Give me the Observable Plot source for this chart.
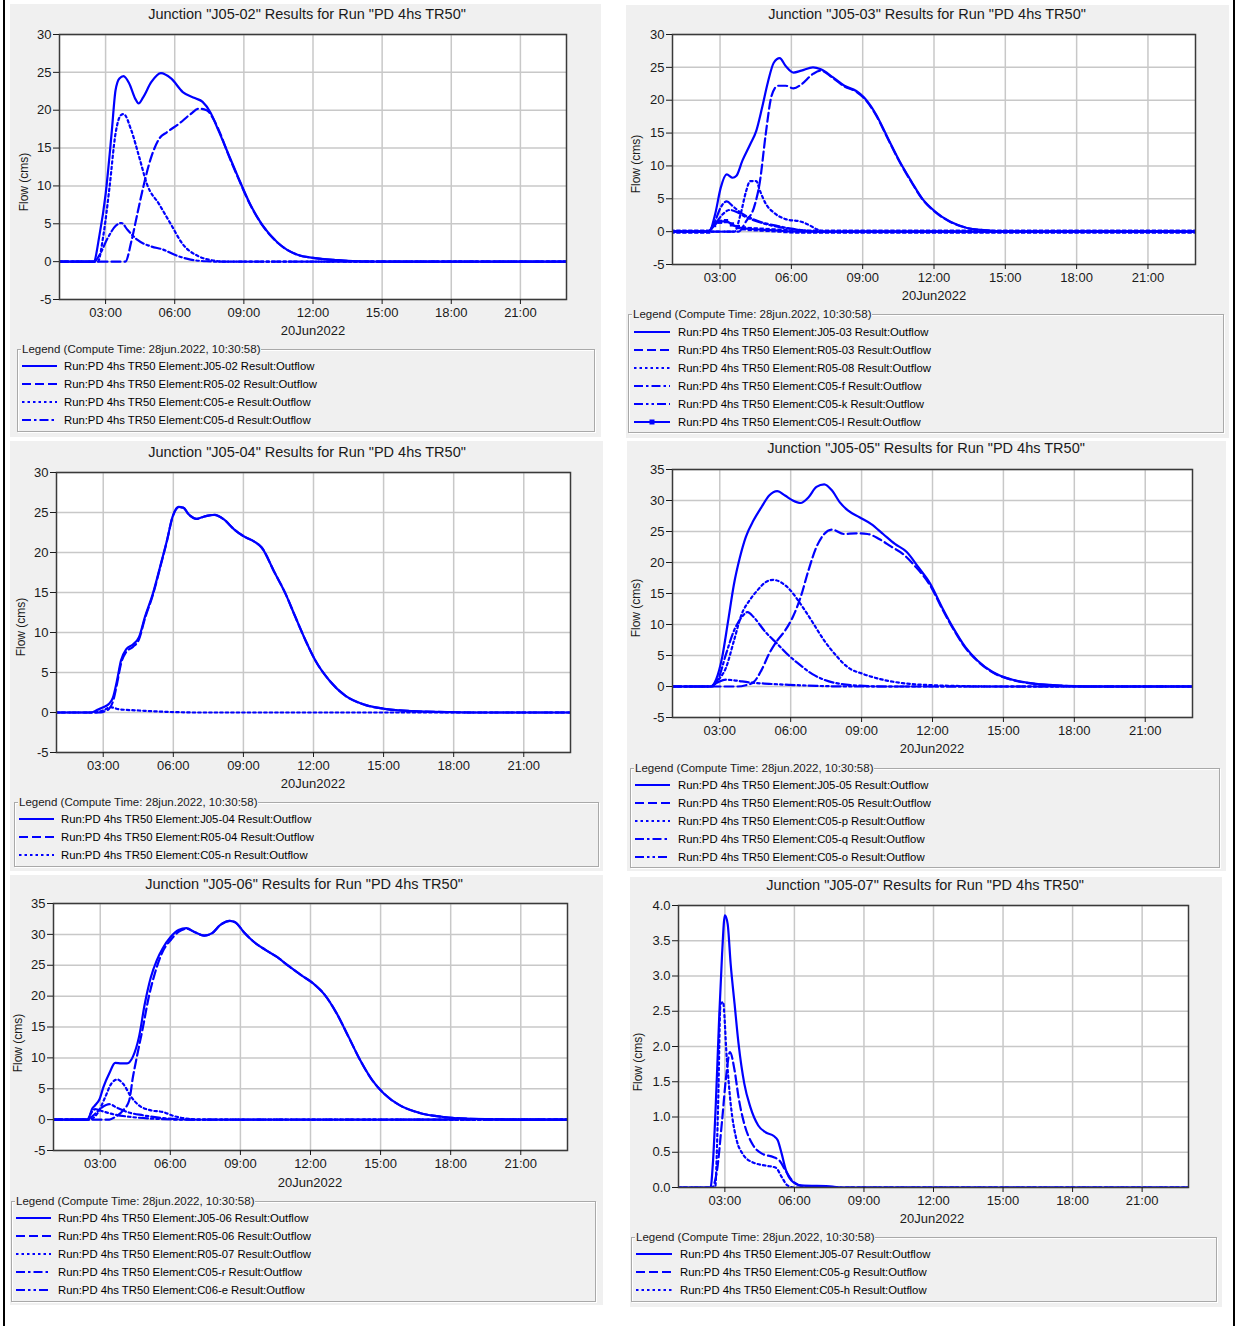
<!DOCTYPE html>
<html><head><meta charset="utf-8">
<script src="https://cdn.jsdelivr.net/npm/d3@7"></script>
<script src="https://cdn.jsdelivr.net/npm/@observablehq/plot@0.6"></script>
<style>
body{margin:0;background:#fff;font-family:"Liberation Sans",Arial,sans-serif;}
#page{position:relative;width:1235px;height:1326px;overflow:hidden;background:#fff;}
.gray{position:absolute;background:#f0f0f0;}
.ctext{position:absolute;white-space:nowrap;color:#1a1a1a;transform:translate(-50%,-50%);}
.title{font-size:14.5px;}
.date{font-size:13px;}
.flow{font-size:12px;transform:translate(-50%,-50%) rotate(-90deg);}
.lbox{position:absolute;border:1px solid #a9a9a9;box-shadow:inset 1px 1px 0 #fff,1px 1px 0 #fff;box-sizing:border-box;}
.ltitle{position:absolute;font-size:11.5px;color:#1a1a1a;background:#f0f0f0;padding:0 1px;white-space:nowrap;transform:translateY(-50%);}
.lrow{position:absolute;font-size:11.3px;color:#000;white-space:nowrap;transform:translateY(-50%);}
.vline{position:absolute;background:#000;}
</style></head>
<body><div id="page"></div>
<script>
// ---------- shared texts / ticks ----------
const xTicks = [3, 6, 9, 12, 15, 18, 21];
const xTickLabels = ["03:00", "06:00", "09:00", "12:00", "15:00", "18:00", "21:00"];
const xDomain = [1, 23];
const dateLabel = "20Jun2022";
const yLabel = "Flow (cms)";
const legendTitle = "Legend (Compute Time: 28jun.2022, 10:30:58)";

// ---------- Panel 1: J05-02 ----------
const p1Title = 'Junction "J05-02" Results for Run "PD 4hs TR50"';
const p1Names = ["Run:PD 4hs TR50 Element:J05-02 Result:Outflow", "Run:PD 4hs TR50 Element:R05-02 Result:Outflow", "Run:PD 4hs TR50 Element:C05-e Result:Outflow", "Run:PD 4hs TR50 Element:C05-d Result:Outflow"];
const p1_J0502 = [[1,0],[2.48,0],[2.74,3.6],[3.0,8.9],[3.26,16.9],[3.43,22.6],[3.6,24.2],[3.78,24.5],[4.03,23.5],[4.29,21.5],[4.43,20.9],[4.63,21.7],[4.98,23.7],[5.4,24.9],[5.84,24.2],[6.35,22.4],[6.87,21.6],[7.21,21.1],[7.55,19.7],[7.9,17.3],[8.33,14.2],[8.76,11.1],[9.27,7.6],[9.79,4.9],[10.47,2.5],[11.33,0.9],[12.0,0.5],[13.05,0.2],[13.9,0.05],[15,0],[23,0]];
const p1_R0502 = [[1,0],[3.86,0],[4.12,2.7],[4.37,6.2],[4.63,9.8],[4.98,13.8],[5.32,16.2],[5.66,17.1],[6.18,18.2],[6.69,19.5],[7.04,20.2],[7.38,20.0],[7.72,18.6],[7.95,17.1],[8.33,14.1],[8.76,11.0],[9.27,7.55],[9.79,4.87],[10.47,2.49],[11.33,0.9],[12.0,0.5],[13.05,0.2],[13.9,0.05],[15,0],[23,0]];
const p1_C05e = [[1,0],[2.66,0],[2.91,3.6],[3.17,9.8],[3.43,16.9],[3.65,19.3],[3.78,19.5],[4.12,17.3],[4.46,13.8],[4.8,10.2],[5.32,7.6],[5.84,4.9],[6.35,2.3],[7.04,0.7],[7.72,0.13],[8.2,0],[23,0]];
const p1_C05d = [[1,0],[2.5,0],[2.74,0.9],[3.09,3.1],[3.43,4.7],[3.69,5.1],[3.95,4.2],[4.37,2.9],[4.98,2.0],[5.49,1.6],[6.0,0.9],[6.69,0.27],[7.38,0.05],[8,0],[23,0]];

// ---------- Panel 2: J05-03 ----------
const p2Title = 'Junction "J05-03" Results for Run "PD 4hs TR50"';
const p2Names = ["Run:PD 4hs TR50 Element:J05-03 Result:Outflow", "Run:PD 4hs TR50 Element:R05-03 Result:Outflow", "Run:PD 4hs TR50 Element:R05-08 Result:Outflow", "Run:PD 4hs TR50 Element:C05-f Result:Outflow", "Run:PD 4hs TR50 Element:C05-k Result:Outflow", "Run:PD 4hs TR50 Element:C05-l Result:Outflow"];
const p2_J0503 = [[1,0],[2.54,0],[2.79,2.6],[3.03,6.7],[3.28,8.7],[3.53,8.2],[3.69,8.5],[3.94,10.8],[4.27,13.3],[4.52,15.3],[4.77,18.9],[5.01,22.7],[5.26,25.7],[5.51,26.4],[5.76,25.2],[6.09,24.2],[6.42,24.5],[6.91,25.0],[7.24,24.7],[7.74,23.5],[8.23,22.2],[8.73,21.4],[9.06,20.4],[9.55,17.9],[10.05,14.3],[10.54,10.8],[11.04,7.7],[11.53,4.9],[12.03,3.1],[12.69,1.5],[13.35,0.6],[14.17,0.2],[15.2,0],[23,0]];
const p2_R0503 = [[1,0],[3.78,0],[4.1,1.6],[4.43,3.7],[4.68,7.7],[4.92,14.8],[5.17,20.7],[5.43,22.2],[5.76,22.2],[6.09,21.8],[6.42,22.4],[6.91,24.0],[7.24,24.5],[7.74,23.4],[8.23,22.1],[8.73,21.3],[9.06,20.3],[9.55,17.8],[10.05,14.2],[10.54,10.7],[11.04,7.6],[11.53,4.85],[12.03,3.05],[12.69,1.48],[13.35,0.6],[14.17,0.2],[15.2,0],[23,0]];
const p2_R0508 = [[1,0],[3.61,0],[3.86,2.6],[4.1,6.2],[4.27,7.7],[4.52,7.7],[4.68,6.2],[4.93,4.2],[5.26,2.9],[5.76,1.9],[6.42,1.5],[6.75,1.0],[7.08,0.35],[7.4,0],[23,0]];
const p2_C05f = [[1,0],[2.5,0],[2.79,1.6],[3.03,3.7],[3.28,4.6],[3.53,3.9],[3.86,2.9],[4.27,2.1],[4.77,1.4],[5.43,0.86],[5.92,0.5],[6.75,0.1],[7.3,0],[23,0]];
const p2_C05k = [[1,0],[2.5,0],[2.8,1.2],[3.1,2.6],[3.4,3.3],[3.7,3.0],[4.1,2.2],[4.6,1.5],[5.2,0.9],[5.8,0.5],[6.5,0.15],[7,0],[23,0]];
// C05-l: 15-minute values from 01:00 to 23:00 (89 values)
const p2_C05l_start = 1, p2_C05l_step = 0.25;
const p2_C05l = [0,0,0,0,0,0,0,1.0,1.5,1.6,1.1,0.7,0.5,0.4,0.35,0.3,0.25,0.2,0.15,0.08,0.03,
  0,0,0,0,0,0,0,0,0,0,
  0,0,0,0,0,0,0,0,0,0,
  0,0,0,0,0,0,0,0,0,0,
  0,0,0,0,0,0,0,0,0,0,
  0,0,0,0,0,0,0,0,0,0,
  0,0,0,0,0,0,0,0,0,0,
  0,0,0,0,0,0,0,0];

// ---------- Panel 3: J05-04 ----------
const p3Title = 'Junction "J05-04" Results for Run "PD 4hs TR50"';
const p3Names = ["Run:PD 4hs TR50 Element:J05-04 Result:Outflow", "Run:PD 4hs TR50 Element:R05-04 Result:Outflow", "Run:PD 4hs TR50 Element:C05-n Result:Outflow"];
const p3_J0504 = [[1,0],[2.49,0],[2.75,0.33],[3.0,0.66],[3.25,1.1],[3.42,1.9],[3.59,4.0],[3.76,6.5],[3.98,7.9],[4.27,8.5],[4.53,9.4],[4.78,11.9],[5.12,14.8],[5.46,18.5],[5.72,21.4],[5.97,24.5],[6.23,25.7],[6.43,25.6],[6.65,24.8],[6.99,24.2],[7.33,24.5],[7.75,24.7],[8.18,24.1],[8.6,22.9],[9.03,22.0],[9.45,21.4],[9.79,20.6],[10.3,17.7],[10.81,14.8],[11.23,11.9],[11.66,9.0],[12.08,6.5],[12.68,4.0],[13.36,2.1],[14.21,0.95],[15.05,0.46],[16.24,0.17],[17.94,0.04],[19,0],[23,0]];
const p3_R0504 = [[1,0],[2.9,0],[3.1,0.2],[3.25,0.45],[3.42,1.4],[3.59,3.6],[3.76,6.1],[3.98,7.55],[4.27,8.2],[4.53,9.15],[4.78,11.7],[5.12,14.65],[5.46,18.4],[5.72,21.35],[5.97,24.45],[6.23,25.65],[6.43,25.6],[6.65,24.8],[6.99,24.2],[7.33,24.5],[7.75,24.7],[8.18,24.1],[8.6,22.9],[9.03,22.0],[9.45,21.4],[9.79,20.6],[10.3,17.7],[10.81,14.8],[11.23,11.9],[11.66,9.0],[12.08,6.5],[12.68,4.0],[13.36,2.1],[14.21,0.95],[15.05,0.46],[16.24,0.17],[17.94,0.04],[19,0],[23,0]];
const p3_C05n = [[1,0],[2.6,0],[3.0,0.25],[3.31,0.66],[3.68,0.4],[4.53,0.25],[5.38,0.12],[6.2,0.04],[7,0],[23,0]];

// ---------- Panel 4: J05-05 ----------
const p4Title = 'Junction "J05-05" Results for Run "PD 4hs TR50"';
const p4Names = ["Run:PD 4hs TR50 Element:J05-05 Result:Outflow", "Run:PD 4hs TR50 Element:R05-05 Result:Outflow", "Run:PD 4hs TR50 Element:C05-p Result:Outflow", "Run:PD 4hs TR50 Element:C05-q Result:Outflow", "Run:PD 4hs TR50 Element:C05-o Result:Outflow"];
const p4_J0505 = [[1,0],[2.6,0],[2.85,1.2],[3.1,4.7],[3.35,10.5],[3.6,16.5],[3.85,20.8],[4.1,24.1],[4.43,26.8],[4.76,28.9],[5.09,30.8],[5.43,31.5],[5.76,30.8],[6.09,30.0],[6.42,29.6],[6.75,30.5],[7.09,32.2],[7.42,32.6],[7.75,31.6],[8.08,29.7],[8.42,28.4],[8.91,27.3],[9.41,26.2],[9.91,24.6],[10.41,23.0],[10.91,21.7],[11.41,19.2],[11.9,16.6],[12.4,12.8],[12.9,9.3],[13.4,6.3],[13.9,4.2],[14.56,2.3],[15.39,1.08],[16.39,0.43],[17.39,0.16],[18.7,0],[23,0]];
const p4_R0505 = [[1,0],[3.76,0],[4.1,0.2],[4.43,0.7],[4.76,2.6],[5.09,5.3],[5.43,7.4],[5.76,9.0],[6.09,11.2],[6.42,14.4],[6.75,18.7],[7.09,22.5],[7.42,24.6],[7.75,25.3],[8.25,24.6],[8.75,24.7],[9.25,24.6],[9.74,23.8],[10.24,22.6],[10.74,21.4],[11.24,19.5],[11.9,16.3],[12.4,12.6],[12.9,9.15],[13.4,6.2],[13.9,4.12],[14.56,2.25],[15.39,1.05],[16.39,0.4],[17.39,0.15],[18.7,0],[23,0]];
const p4_C05p = [[1,0],[2.68,0],[2.93,1.0],[3.27,3.1],[3.6,7.4],[3.93,11.7],[4.26,13.9],[4.59,15.5],[4.93,16.8],[5.26,17.2],[5.59,16.8],[5.92,15.8],[6.42,13.3],[6.92,10.4],[7.42,7.4],[7.92,5.0],[8.42,3.1],[9.08,2.0],[9.74,1.24],[10.74,0.54],[12.07,0.2],[13.5,0.05],[14.5,0],[23,0]];
const p4_C05q = [[1,0],[2.6,0],[2.93,1.2],[3.27,5.3],[3.6,9.0],[3.93,11.2],[4.18,12.0],[4.43,11.2],[4.93,8.8],[5.43,6.9],[5.92,5.0],[6.42,3.4],[6.92,2.0],[7.42,1.08],[8.08,0.43],[9.08,0.1],[10,0],[23,0]];
const p4_C05o = [[1,0],[2.6,0],[2.93,0.7],[3.27,1.1],[3.6,1.0],[4.26,0.65],[5.09,0.43],[5.92,0.27],[7.09,0.1],[8.5,0],[23,0]];

// ---------- Panel 5: J05-06 ----------
const p5Title = 'Junction "J05-06" Results for Run "PD 4hs TR50"';
const p5Names = ["Run:PD 4hs TR50 Element:J05-06 Result:Outflow", "Run:PD 4hs TR50 Element:R05-06 Result:Outflow", "Run:PD 4hs TR50 Element:R05-07 Result:Outflow", "Run:PD 4hs TR50 Element:C05-r Result:Outflow", "Run:PD 4hs TR50 Element:C06-e Result:Outflow"];
const p5_J0506 = [[1,0],[2.46,0],[2.66,1.8],[2.8,2.4],[2.97,3.3],[3.14,5.3],[3.39,7.5],[3.64,9.2],[3.9,9.1],[4.15,9.1],[4.4,10.2],[4.66,13.4],[4.91,18.8],[5.17,23.1],[5.42,25.8],[5.67,27.7],[6.02,29.6],[6.35,30.7],[6.69,31.0],[7.03,30.4],[7.45,29.8],[7.79,30.2],[8.13,31.5],[8.55,32.2],[8.8,31.9],[9.14,30.4],[9.57,28.8],[10.07,27.5],[10.58,26.3],[11.09,24.8],[11.6,23.4],[12.1,22.1],[12.61,20.2],[13.12,17.2],[13.63,13.4],[14.13,9.6],[14.64,6.4],[15.15,4.2],[15.83,2.3],[16.67,1.08],[17.69,0.43],[18.7,0.16],[20.06,0.05],[20.5,0],[23,0]];
const p5_R0506 = [[1,0],[3.39,0],[3.64,0.43],[3.98,1.5],[4.24,3.1],[4.4,6.9],[4.57,10.2],[4.83,15.0],[5.08,19.9],[5.34,23.7],[5.67,27.2],[6.02,29.1],[6.35,30.4],[6.69,30.9],[7.03,30.4],[7.45,29.8],[7.79,30.2],[8.13,31.5],[8.55,32.2],[8.8,31.9],[9.14,30.4],[9.57,28.8],[10.07,27.5],[10.58,26.3],[11.09,24.8],[11.6,23.4],[12.1,22.1],[12.61,20.2],[13.12,17.2],[13.63,13.4],[14.13,9.6],[14.64,6.4],[15.15,4.2],[15.83,2.3],[16.67,1.08],[17.69,0.43],[18.7,0.16],[20.06,0.05],[20.5,0],[23,0]];
const p5_R0507 = [[1,0],[2.5,0],[2.88,1.0],[3.22,3.7],[3.47,5.8],[3.73,6.5],[3.98,5.8],[4.32,3.7],[4.66,2.3],[5.17,1.5],[5.67,1.24],[6.18,0.54],[6.86,0.1],[7.3,0],[23,0]];
const p5_C05r = [[1,0],[2.4,0],[2.71,0.7],[3.05,1.9],[3.39,2.5],[3.73,1.9],[4.15,1.24],[4.83,0.7],[5.5,0.32],[6.35,0.05],[7,0],[23,0]];
const p5_C06e = [[1,0],[2.45,0],[2.6,1.0],[2.78,1.7],[3.14,1.3],[3.64,0.8],[4.32,0.43],[5.5,0.1],[6.5,0],[23,0]];

// ---------- Panel 6: J05-07 ----------
const p6Title = 'Junction "J05-07" Results for Run "PD 4hs TR50"';
const p6Names = ["Run:PD 4hs TR50 Element:J05-07 Result:Outflow", "Run:PD 4hs TR50 Element:C05-g Result:Outflow", "Run:PD 4hs TR50 Element:C05-h Result:Outflow"];
const p6_J0507 = [[1,0],[2.38,0],[2.49,0.38],[2.61,1.19],[2.75,2.37],[2.88,3.31],[3.0,3.86],[3.12,3.74],[3.25,3.17],[3.42,2.6],[3.59,2.04],[3.84,1.47],[4.1,1.14],[4.44,0.88],[4.77,0.78],[5.11,0.73],[5.28,0.67],[5.45,0.48],[5.62,0.26],[5.87,0.1],[6.29,0.03],[7.65,0.014],[8,0],[23,0]];
const p6_C05g = [[1,0],[2.44,0],[2.66,0.24],[2.88,0.95],[3.05,1.56],[3.22,1.92],[3.42,1.66],[3.59,1.28],[3.84,0.9],[4.18,0.62],[4.6,0.48],[5.11,0.43],[5.36,0.38],[5.62,0.24],[5.96,0.08],[6.46,0.01],[7,0],[23,0]];
const p6_C05h = [[1,0],[2.58,0],[2.71,1.19],[2.81,2.6],[2.92,2.63],[3.08,1.85],[3.25,1.19],[3.51,0.67],[3.76,0.48],[4.18,0.36],[4.77,0.31],[5.2,0.28],[5.45,0.15],[5.7,0.03],[6,0],[23,0]];

// ---------- styles ----------
const BLUE = "#0000ff";
const DASH = {solid: null, dash: "9,4", dot: "2.5,3", dashdot: "9,3,2.5,3", dashdotdot: "9,3,2.5,3,2.5,3"};

const toRows = arr => arr.map(([h, v]) => ({h, v}));
const stepRows = (start, step, vals) => vals.map((v, i) => ({h: start + i * step, v}));

// ---------- layout ----------
const panels = [
  {title: p1Title, names: p1Names, series: [[p1_J0502,"solid"],[p1_R0502,"dash"],[p1_C05e,"dot"],[p1_C05d,"dashdot"]].map(([d,s]) => ({rows: toRows(d), style: s})),
   ydom: [-5, 30], yticks: [-5,0,5,10,15,20,25,30], yfmt: d => String(d),
   gray: [10,4,601,437], frame: [59,34,566,299], titleXY: [307,14], dateXY: [313,330], flowXY: [24,182],
   legend: [17,349,595,432], rows: [366,384,402,420], sample: [22,57], textX: 64},
  {title: p2Title, names: p2Names, series: [[p2_J0503,"solid"],[p2_R0503,"dash"],[p2_R0508,"dot"],[p2_C05f,"dashdot"],[p2_C05k,"dashdotdot"]].map(([d,s]) => ({rows: toRows(d), style: s}))
     .concat([{rows: stepRows(p2_C05l_start, p2_C05l_step, p2_C05l), style: "solid", markers: true}]),
   ydom: [-5, 30], yticks: [-5,0,5,10,15,20,25,30], yfmt: d => String(d),
   gray: [626,5,1229,438], frame: [672,34,1195,264], titleXY: [927,14], dateXY: [934,295], flowXY: [636,164],
   legend: [628,314,1224,433], rows: [332,350,368,386,404,422], sample: [634,670], textX: 678},
  {title: p3Title, names: p3Names, series: [[p3_J0504,"solid"],[p3_R0504,"dash"],[p3_C05n,"dot"]].map(([d,s]) => ({rows: toRows(d), style: s})),
   ydom: [-5, 30], yticks: [-5,0,5,10,15,20,25,30], yfmt: d => String(d),
   gray: [10,441,603,871], frame: [56,472,570,752], titleXY: [307,452], dateXY: [313,783], flowXY: [21,627],
   legend: [14,802,599,867], rows: [819,837,855], sample: [19,54], textX: 61},
  {title: p4Title, names: p4Names, series: [[p4_J0505,"solid"],[p4_R0505,"dash"],[p4_C05p,"dot"],[p4_C05q,"dashdot"],[p4_C05o,"dashdotdot"]].map(([d,s]) => ({rows: toRows(d), style: s})),
   ydom: [-5, 35], yticks: [-5,0,5,10,15,20,25,30,35], yfmt: d => String(d),
   gray: [627,441,1226,871], frame: [672,469,1192,717], titleXY: [926,448], dateXY: [932,748], flowXY: [636,608],
   legend: [630,768,1220,868], rows: [785,803,821,839,857], sample: [635,670], textX: 678},
  {title: p5Title, names: p5Names, series: [[p5_J0506,"solid"],[p5_R0506,"dash"],[p5_R0507,"dot"],[p5_C05r,"dashdot"],[p5_C06e,"dashdotdot"]].map(([d,s]) => ({rows: toRows(d), style: s})),
   ydom: [-5, 35], yticks: [-5,0,5,10,15,20,25,30,35], yfmt: d => String(d),
   gray: [10,875,603,1305], frame: [53,903,567,1150], titleXY: [304,884], dateXY: [310,1182], flowXY: [18,1043],
   legend: [11,1201,596,1302], rows: [1218,1236,1254,1272,1290], sample: [16,51], textX: 58},
  {title: p6Title, names: p6Names, series: [[p6_J0507,"solid"],[p6_C05g,"dash"],[p6_C05h,"dot"]].map(([d,s]) => ({rows: toRows(d), style: s})),
   ydom: [0, 4], yticks: [0,0.5,1,1.5,2,2.5,3,3.5,4], yfmt: d3.format(".1f"),
   gray: [630,877,1222,1307], frame: [678,905,1188,1187], titleXY: [925,885], dateXY: [932,1218], flowXY: [638,1062],
   legend: [631,1237,1217,1302], rows: [1254,1272,1290], sample: [636,672], textX: 680}
];

const page = document.getElementById("page");
function el(tag, cls, css, text) {
  const e = document.createElement(tag);
  if (cls) e.className = cls;
  Object.assign(e.style, css || {});
  if (text != null) e.textContent = text;
  page.appendChild(e);
  return e;
}
// outer black edges
el("div", "vline", {left: "3px", top: "0px", width: "2px", height: "1326px"});
el("div", "vline", {left: "1233px", top: "0px", width: "2px", height: "1326px"});

const mL = 45, mR = 12, mT = 12, mB = 30;
for (const p of panels) {
  const [gx0, gy0, gx1, gy1] = p.gray;
  el("div", "gray", {left: gx0 + "px", top: gy0 + "px", width: (gx1 - gx0) + "px", height: (gy1 - gy0) + "px"});
  el("div", "ctext title", {left: p.titleXY[0] + "px", top: p.titleXY[1] + "px"}, p.title);

  const [fx0, fy0, fx1, fy1] = p.frame;
  const marks = [
    Plot.frame({fill: "white"}),
    Plot.gridX({ticks: xTicks, stroke: "#c8c8c8", strokeOpacity: 1, strokeWidth: 1.5}),
    Plot.gridY({ticks: p.yticks, stroke: "#c8c8c8", strokeOpacity: 1, strokeWidth: 1.5})
  ];
  for (const s of p.series) {
    marks.push(Plot.line(s.rows, {x: "h", y: "v", stroke: BLUE, strokeWidth: 2.2, strokeDasharray: DASH[s.style], curve: "monotone-x", clip: true}));
    if (s.markers) marks.push(Plot.dot(s.rows, {x: "h", y: "v", symbol: "square", r: 2.4, fill: BLUE, stroke: "none", clip: true}));
  }
  marks.push(Plot.frame({stroke: "#3a3a3a", strokeWidth: 1.5}));
  marks.push(Plot.axisX({ticks: xTicks, tickFormat: h => xTickLabels[xTicks.indexOf(h)], tickSize: 5, tickPadding: 3, label: null, fontSize: 13}));
  marks.push(Plot.axisY({ticks: p.yticks, tickFormat: p.yfmt, tickSize: 6, tickPadding: 2, label: null, fontSize: 13}));

  const svg = Plot.plot({
    width: (fx1 - fx0) + mL + mR, height: (fy1 - fy0) + mT + mB,
    marginLeft: mL, marginRight: mR, marginTop: mT, marginBottom: mB,
    style: {fontFamily: '"Liberation Sans", Arial, sans-serif', fontSize: "13px", color: "#1a1a1a", background: "transparent", overflow: "visible"},
    x: {domain: xDomain},
    y: {domain: p.ydom},
    marks
  });
  svg.style.position = "absolute";
  svg.style.left = (fx0 - mL) + "px";
  svg.style.top = (fy0 - mT) + "px";
  page.appendChild(svg);

  el("div", "ctext date", {left: p.dateXY[0] + "px", top: p.dateXY[1] + "px"}, dateLabel);
  el("div", "ctext flow", {left: p.flowXY[0] + "px", top: p.flowXY[1] + "px"}, yLabel);

  const [lx0, ly0, lx1, ly1] = p.legend;
  el("div", "lbox", {left: lx0 + "px", top: ly0 + "px", width: (lx1 - lx0) + "px", height: (ly1 - ly0) + "px"});
  el("div", "ltitle", {left: (lx0 + 4) + "px", top: ly0 + "px"}, legendTitle);
  p.series.forEach((s, i) => {
    const y = p.rows[i];
    const w = p.sample[1] - p.sample[0];
    const ns = "http://www.w3.org/2000/svg";
    const sv = document.createElementNS(ns, "svg");
    sv.setAttribute("width", w); sv.setAttribute("height", 10);
    Object.assign(sv.style, {position: "absolute", left: p.sample[0] + "px", top: (y - 5) + "px"});
    const ln = document.createElementNS(ns, "line");
    ln.setAttribute("x1", 0); ln.setAttribute("x2", w); ln.setAttribute("y1", 5); ln.setAttribute("y2", 5);
    ln.setAttribute("stroke", BLUE); ln.setAttribute("stroke-width", 2);
    if (DASH[s.style]) ln.setAttribute("stroke-dasharray", DASH[s.style]);
    sv.appendChild(ln);
    if (s.markers) {
      const r = document.createElementNS(ns, "rect");
      r.setAttribute("x", w / 2 - 2.5); r.setAttribute("y", 2.5); r.setAttribute("width", 5); r.setAttribute("height", 5);
      r.setAttribute("fill", BLUE);
      sv.appendChild(r);
    }
    page.appendChild(sv);
    el("div", "lrow", {left: p.textX + "px", top: y + "px"}, p.names[i]);
  });
}
</script></body></html>
